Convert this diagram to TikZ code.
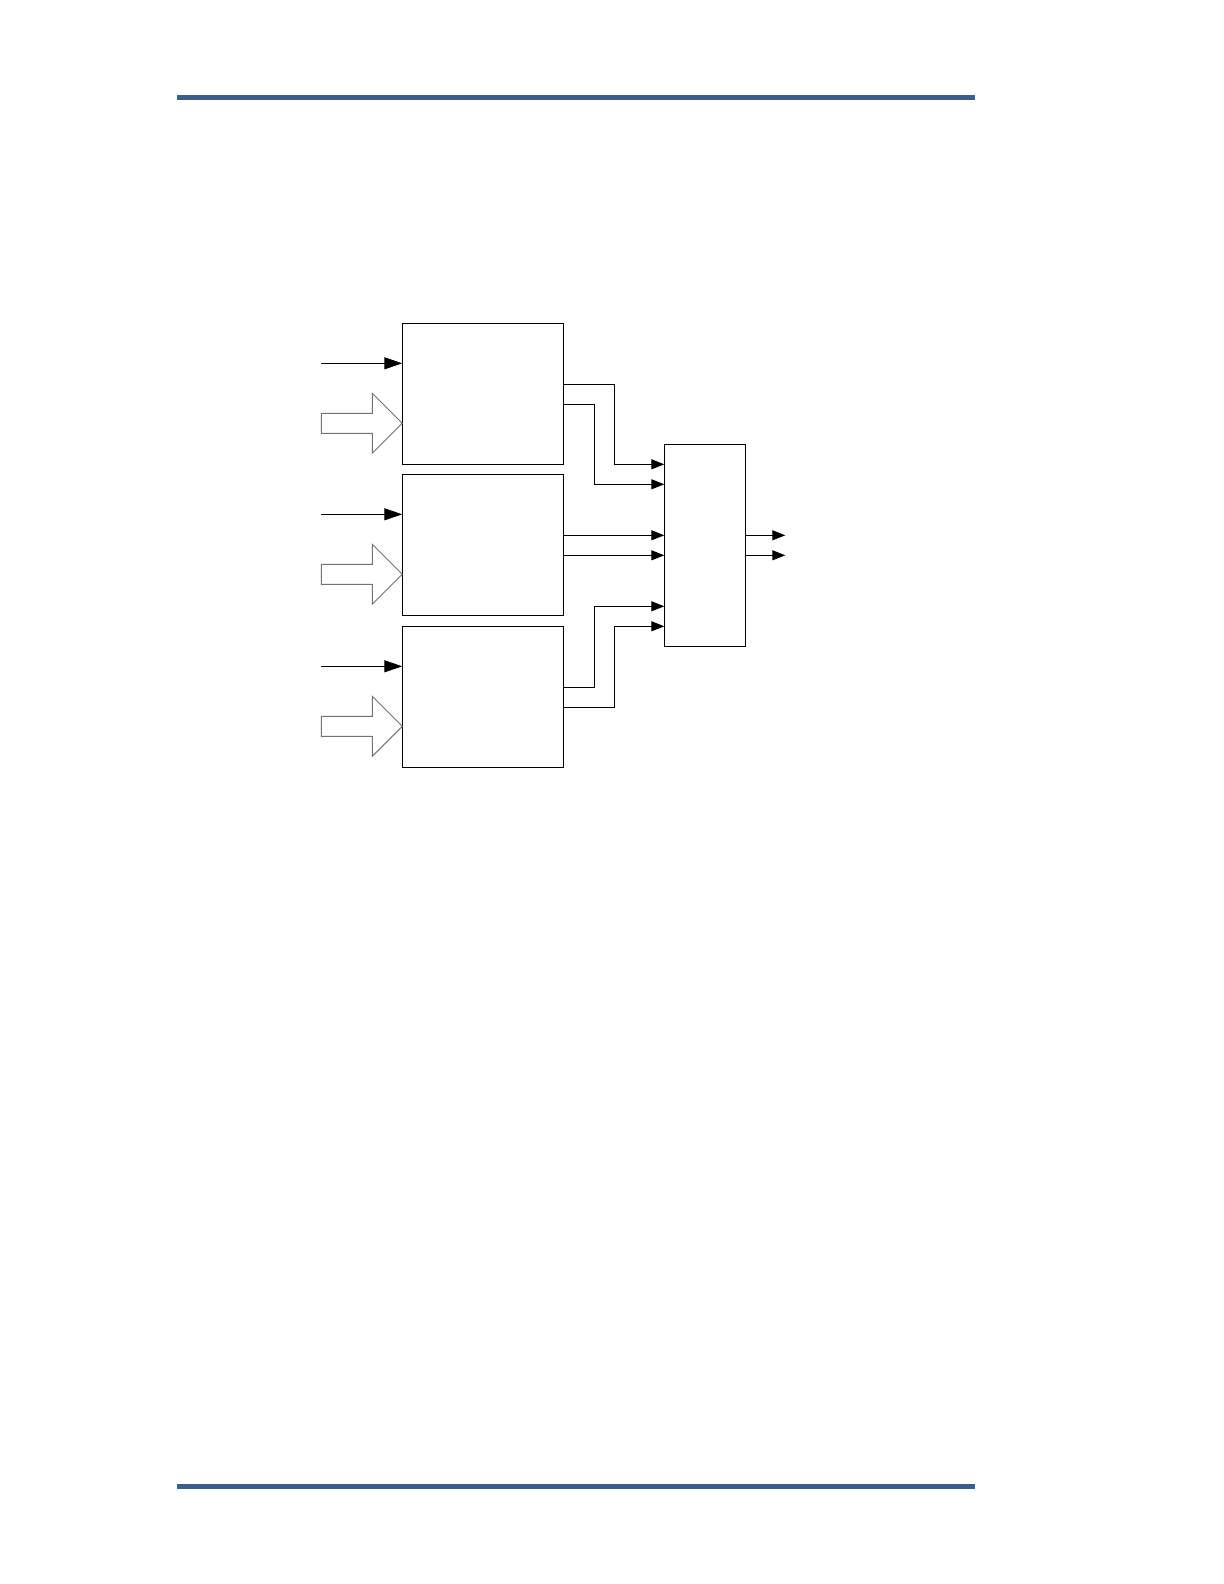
\documentclass[tikz,border=0pt]{standalone}
\usetikzlibrary{arrows.meta,calc}
\definecolor{rulecol}{RGB}{58,95,143}
\begin{document}
\begin{tikzpicture}[x=0.5pt, y=-0.5pt, line join=miter,
    blk/.style={draw, line width=0.55pt, anchor=north west, inner sep=0pt, outer sep=0pt,
        minimum width=80.5pt, minimum height=70.5pt},
    muxbox/.style={draw, line width=0.55pt, anchor=north west, inner sep=0pt, outer sep=0pt,
        minimum width=40.5pt, minimum height=101pt},
    inwire/.style={line width=0.55pt, -{Triangle[length=9pt, width=6pt]}},
    sigwire/.style={line width=0.55pt, -{Triangle[length=6.5pt, width=5pt]}},
    fatarrow/.style={draw=black!55, line width=0.45pt, fill=white}]

\useasboundingbox (0,0) rectangle (1224,1584);

% page rules
\fill[rulecol] (177,94.7) rectangle (975,99.7);
\fill[rulecol] (177,1484) rectangle (975,1489);

% blocks
\node[blk] (srcA) at (402.3,323.3) {};
\node[blk] (srcB) at (402.3,474.3) {};
\node[blk] (srcC) at (402.3,626.3) {};
\node[muxbox] (mux) at (664.3,444.3) {};

% inputs of each block
\foreach \b in {srcA,srcB,srcC} {
    \coordinate (\b-in) at ($(\b.north west)+(-81,40)$);
    \draw[inwire] (\b-in) -- ($(\b.north west)+(0,40)$);
    \draw[fatarrow] ($(\b.north west)+(0,100)$) -- ++(-30,-30) -- ++(0,20) -- ++(-51,0)
        -- ++(0,20) -- ++(51,0) -- ++(0,20) -- cycle;
}

% block outputs to mux
\draw[sigwire] ($(srcA.north east)+(0,61)$) -- ++(51,0) |- ($(mux.north west)+(0,20)$);
\draw[sigwire] ($(srcA.north east)+(0,81)$) -- ++(31,0) |- ($(mux.north west)+(0,40)$);
\draw[sigwire] ($(srcB.north east)+(0,61)$) -- ($(mux.north west)+(0,91)$);
\draw[sigwire] ($(srcB.north east)+(0,81)$) -- ($(mux.north west)+(0,111)$);
\draw[sigwire] ($(srcC.north east)+(0,61)$) -- ++(31,0) |- ($(mux.north west)+(0,162)$);
\draw[sigwire] ($(srcC.north east)+(0,81)$) -- ++(51,0) |- ($(mux.north west)+(0,182)$);

% mux outputs
\coordinate (outA) at ($(mux.north east)+(40,91)$);
\coordinate (outB) at ($(mux.north east)+(40,111)$);
\draw[sigwire] ($(mux.north east)+(0,91)$) -- (outA);
\draw[sigwire] ($(mux.north east)+(0,111)$) -- (outB);
\end{tikzpicture}
\end{document}
